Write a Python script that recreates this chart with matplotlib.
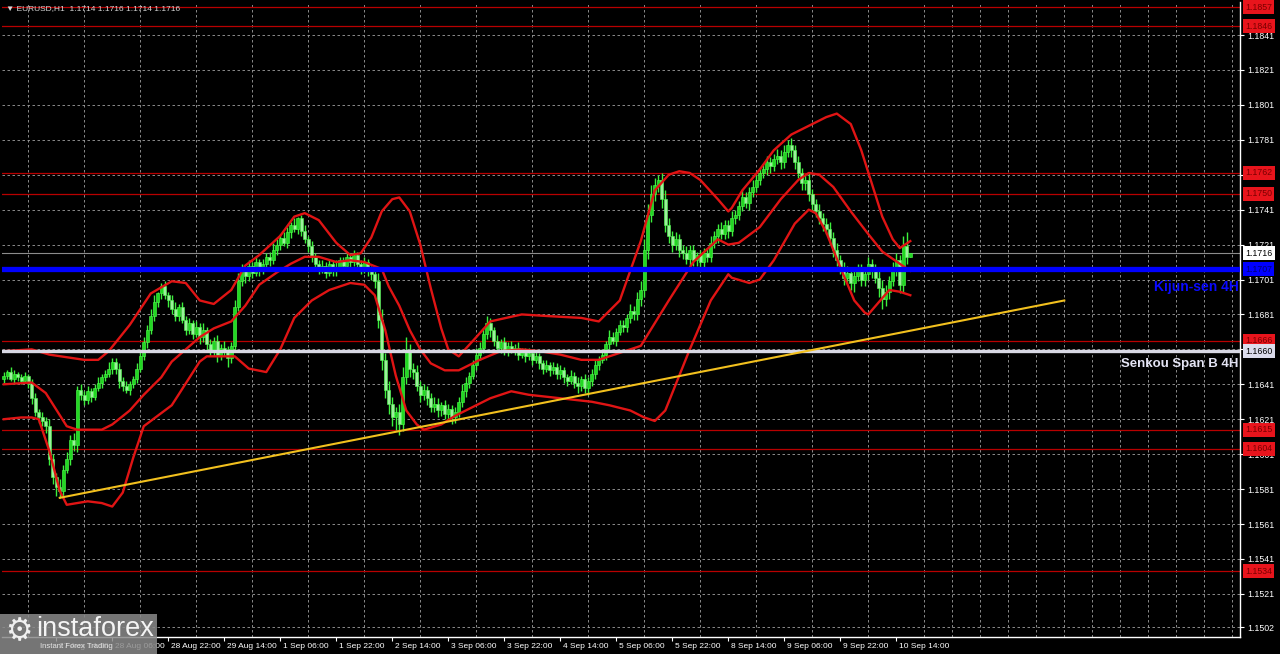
import matplotlib
matplotlib.use("Agg")
import matplotlib.pyplot as plt
from matplotlib.patches import Rectangle
from matplotlib.transforms import blended_transform_factory, ScaledTranslation
import numpy as np

plt.rcParams['font.family'] = ['Liberation Sans', 'DejaVu Sans']

# ---- EURUSD H1 data (pips above 1.1500) ----
BASE = 1.1500
first_open_pips = 144
closes_pips = [
    146, 148, 144, 147, 145, 143, 146, 142, 133, 125,
    122, 120, 117, 98, 88, 82, 80, 92, 98, 109,
    106, 138, 135, 132, 137, 134, 139, 142, 145, 147,
    150, 154, 150, 143, 140, 138, 141, 144, 150, 157,
    165, 172, 180, 188, 193, 197, 192, 189, 184, 180,
    185, 178, 172, 176, 170, 174, 168, 172, 164, 160,
    166, 158, 162, 160, 156, 163, 185, 200, 207, 203,
    209, 205, 211, 206, 210, 214, 212, 218, 221, 225,
    222, 228, 232, 230, 236, 229, 224, 220, 214, 210,
    207, 209, 205, 210, 206, 208, 212, 209, 214, 211,
    215, 210, 207, 211, 206, 204, 200, 178, 155, 138,
    130, 122, 125, 118, 145, 160, 150, 148, 140, 135,
    138, 133, 128, 130, 126, 129, 124, 127, 122, 125,
    131, 137, 142, 146, 152, 158, 162, 170, 176, 172,
    166, 162, 165, 160, 163, 161, 162, 158, 160, 157,
    159, 155, 157, 153, 150, 152, 149, 151, 147, 149,
    145, 143, 146, 142, 140, 144, 139, 143, 147, 152,
    155, 158, 164, 168, 166, 171, 175, 174, 179, 183,
    181, 190, 195, 218, 238, 250, 255, 258, 247, 232,
    226, 221, 224, 218, 216, 213, 218, 212, 215, 211,
    216, 214, 222, 226, 230, 227, 232, 229, 236, 238,
    243, 248, 245, 251, 254, 258, 262, 264, 268, 266,
    270, 272, 268, 274, 278, 275, 268, 262, 256, 258,
    250, 244, 240, 236, 233, 230, 225, 218, 212, 208,
    202, 205, 199, 203, 206, 201, 204, 210, 206, 202,
    196, 190, 194, 200, 207, 212, 198, 220, 214, 216,
]
wick_up = [
    2, 1, 3, 2, 1, 2, 2, 1, 2, 3,
    2, 3, 2, 4, 3, 2, 5, 3, 4, 3,
    4, 2, 3, 2, 3, 2, 2, 3, 2, 2,
    4, 2, 2, 3, 2, 3, 2, 2, 3, 4,
    3, 3, 4, 4, 1, 2, 3, 2, 3, 4,
    2, 3, 2, 3, 2, 3, 2, 4, 2, 3,
    2, 3, 2, 4, 3, 2, 4, 5, 3, 2,
    3, 2, 3, 2, 3, 2, 3, 4, 3, 2,
    3, 3, 2, 4, 1, 2, 3, 2, 3, 2,
    2, 3, 2, 3, 2, 4, 2, 2, 3, 2,
    3, 2, 2, 3, 2, 3, 2, 5, 6, 4,
    5, 4, 3, 5, 6, 8, 4, 3, 4, 3,
    3, 2, 3, 4, 3, 2, 3, 3, 2, 3,
    3, 4, 3, 2, 3, 4, 3, 3, 4, 3,
    2, 3, 2, 3, 2, 3, 2, 3, 2, 2,
    3, 2, 3, 2, 2, 3, 2, 3, 2, 3,
    2, 2, 3, 2, 3, 2, 3, 2, 3, 3,
    2, 3, 2, 4, 3, 2, 3, 3, 2, 4,
    3, 4, 5, 6, 6, 5, 4, 3, 4, 5,
    4, 3, 4, 3, 3, 4, 3, 3, 2, 3,
    3, 3, 4, 3, 3, 4, 3, 3, 4, 3,
    3, 4, 3, 3, 4, 3, 3, 3, 4, 3,
    3, 4, 3, 4, 3, 4, 3, 4, 3, 3,
    4, 3, 3, 4, 3, 3, 4, 3, 4, 3,
    3, 4, 3, 3, 4, 4, 3, 4, 3, 4,
    4, 5, 4, 3, 4, 4, 3, 6, 8, 0,
]
wick_dn = [
    2, 2, 1, 3, 2, 2, 1, 3, 3, 2,
    3, 3, 4, 3, 4, 5, 4, 3, 2, 3,
    3, 4, 3, 3, 2, 3, 2, 2, 3, 2,
    2, 3, 3, 4, 3, 2, 3, 2, 2, 2,
    2, 3, 2, 3, 3, 3, 2, 4, 3, 3,
    3, 2, 3, 2, 3, 2, 4, 3, 4, 3,
    3, 4, 3, 3, 5, 3, 3, 2, 3, 4,
    3, 3, 2, 3, 2, 3, 3, 2, 3, 3,
    2, 3, 3, 2, 3, 3, 2, 3, 3, 4,
    3, 2, 3, 2, 3, 3, 2, 3, 2, 3,
    2, 3, 3, 2, 3, 3, 4, 5, 6, 5,
    6, 5, 7, 6, 4, 4, 5, 4, 3, 4,
    3, 4, 3, 3, 4, 3, 3, 4, 4, 3,
    3, 3, 3, 3, 2, 3, 3, 3, 3, 4,
    3, 2, 3, 2, 3, 2, 3, 3, 2, 3,
    2, 3, 2, 3, 3, 2, 3, 2, 3, 3,
    3, 3, 2, 3, 4, 3, 3, 4, 3, 3,
    3, 2, 3, 3, 2, 3, 2, 3, 3, 3,
    3, 3, 4, 4, 5, 4, 4, 4, 5, 4,
    4, 4, 3, 4, 3, 3, 4, 3, 3, 3,
    3, 3, 3, 3, 4, 3, 3, 4, 3, 3,
    3, 3, 3, 4, 3, 3, 3, 3, 3, 4,
    3, 3, 4, 3, 3, 4, 4, 3, 4, 4,
    4, 4, 3, 3, 4, 3, 4, 4, 3, 4,
    4, 3, 4, 5, 3, 4, 4, 3, 4, 3,
    5, 6, 4, 4, 3, 4, 5, 4, 4, 0,
]

# ---- Bollinger-style envelope (bar index, pips) ----
upper_bars = [0, 8, 13, 23, 27, 30, 36, 42, 48, 52, 56, 60, 65, 69, 73, 79, 83, 86, 90, 95,
              99, 102, 105, 108, 111, 113, 116, 119, 122, 125, 127, 130, 135, 139, 148, 156, 165, 170, 176, 182,
              186, 190, 193, 196, 199, 204, 207, 208, 211, 216, 220, 225, 230, 235, 238, 242, 245, 248, 251, 254,
              256, 259]
upper_pips = [160, 161, 158, 155, 155, 160, 175, 193, 200, 199, 189, 187, 195, 209, 215, 226, 237, 239, 235, 222,
              215, 216, 225, 240, 247, 248, 240, 221, 196, 173, 161, 157, 168, 177, 181, 180, 179, 177, 189, 223,
              252, 261, 263, 262, 258, 247, 240, 242, 252, 264, 275, 284, 289, 294, 296, 290, 275, 256, 237, 224,
              219, 223]
mid_bars = [0, 8, 12, 18, 21, 28, 31, 36, 40, 45, 48, 52, 56, 60, 65, 69, 73, 78, 82, 86,
            90, 95, 99, 103, 108, 110, 113, 116, 119, 122, 126, 130, 136, 142, 148, 153, 159, 165, 170, 176,
            182, 190, 197, 204, 207, 210, 216, 222, 227, 230, 233, 237, 242, 247, 251, 256, 259]
mid_pips = [141, 142, 136, 117, 115, 115, 118, 126, 135, 145, 154, 161, 168, 173, 177, 186, 198, 205, 210, 214,
            214, 211, 212, 211, 207, 197, 186, 172, 161, 153, 149, 149, 155, 160, 161, 160, 158, 155, 155, 159,
            163, 189, 211, 224, 221, 222, 231, 247, 258, 262, 261, 254, 240, 227, 217, 210, 206]
low_bars = [0, 5, 8, 10, 13, 16, 18, 24, 28, 31, 34, 37, 40, 44, 48, 56, 58, 66, 70, 75,
            79, 83, 88, 93, 99, 103, 106, 109, 112, 115, 118, 120, 125, 129, 133, 139, 145, 150, 159, 168,
            173, 179, 183, 186, 189, 192, 196, 202, 207, 208, 213, 216, 220, 226, 230, 232, 235, 239, 243, 246,
            247, 250, 253, 256, 259]
low_pips = [121, 122, 122, 121, 103, 80, 72, 74, 73, 71, 79, 99, 117, 123, 129, 154, 157, 157, 150, 148,
            161, 179, 189, 195, 199, 198, 192, 172, 146, 126, 118, 115, 118, 123, 127, 133, 137, 135, 133, 131,
            129, 126, 122, 120, 126, 141, 161, 189, 204, 202, 199, 201, 212, 233, 241, 239, 228, 208, 189, 182,
            181, 188, 195, 194, 192]

# ---- levels ----
red_levels = [1.1857, 1.1846, 1.1762, 1.1750, 1.1666, 1.1615, 1.1604, 1.1534]
kijun = 1.1707
senkou_b = 1.1660
bid = 1.1716
trend_bars = [16, 303]
trend_prices = [1.1576, 1.1689]
title_ohlc = [1.1714, 1.1716, 1.1714, 1.1716]

price_ticks = [1.1841, 1.1821, 1.1801, 1.1781, 1.1761, 1.1741, 1.1721, 1.1701, 1.1681,
               1.1661, 1.1641, 1.1621, 1.1601, 1.1581, 1.1561, 1.1541, 1.1521, 1.1502]
# tick labels hidden behind the level boxes on the price scale
hidden_ticks = [1.1761, 1.1661]
time_labels = ["27 Aug 14:00", "28 Aug 06:00", "28 Aug 22:00", "29 Aug 14:00", "1 Sep 06:00",
               "1 Sep 22:00", "2 Sep 14:00", "3 Sep 06:00", "3 Sep 22:00", "4 Sep 14:00",
               "5 Sep 06:00", "5 Sep 22:00", "8 Sep 14:00", "9 Sep 06:00", "9 Sep 22:00",
               "10 Sep 14:00"]
first_label_bar = 15
bars_per_label = 16
bars_per_grid = 8


def px(p):
    return BASE + np.asarray(p, dtype=float) / 10000.0


fig = plt.figure(figsize=(12.8, 6.54), dpi=100, facecolor='black')
ax = fig.add_axes([2 / 1280, 17 / 654, 1238 / 1280, 635 / 654])
ax.set_facecolor('black')
ax.set_axisbelow(True)

# ---- candles ----
n = len(closes_pips)
bars = np.arange(n)
c = np.array(closes_pips, dtype=float)
o = np.concatenate([[first_open_pips], c[:-1]])
hi = np.maximum(o, c) + np.array(wick_up)
lo = np.minimum(o, c) - np.array(wick_dn)
ax.vlines(bars, px(lo), px(hi), color='#3cf03c', lw=1.0, zorder=3)
up = c >= o
body_h = np.maximum(np.abs(c - o), 0.5) / 10000.0
body_b = px(np.minimum(o, c))
ax.bar(bars[up], body_h[up], bottom=body_b[up], width=0.78, color='#22d822',
       edgecolor='#50ff50', lw=0.4, zorder=4)
ax.bar(bars[~up], body_h[~up], bottom=body_b[~up], width=0.78, color='#9cf09c',
       edgecolor='#50ff50', lw=0.4, zorder=4)

# ---- horizontal levels ----
for lvl in red_levels:
    ax.axhline(lvl, color='#b80000', lw=0.9, zorder=2)
ax.axhline(bid, color='#8c8c8c', lw=0.8, zorder=2)

# ---- envelope ----
for bx, bp in [(upper_bars, upper_pips), (mid_bars, mid_pips), (low_bars, low_pips)]:
    ax.plot(bx, px(bp), color='#e01414', lw=1.7, zorder=5, solid_joinstyle='round')

ax.axhline(kijun, color='#0000ff', lw=3.8, zorder=6)
ax.axhline(senkou_b, color='#d8d8e4', lw=2.4, zorder=6)
ax.plot(trend_bars, trend_prices, color='#f2c01e', lw=1.5, zorder=6)

# ---- axes / grid ----
ax.set_xlim(-0.5, 353.2)
ax.set_ylim(1.14963, 1.18599)
ax.yaxis.tick_right()
ax.set_yticks(price_ticks)
ax.set_yticklabels(["" if t in hidden_ticks else f"{t:.4f}" for t in price_ticks])
ax.tick_params(axis='y', colors='white', labelsize=6.3, length=3, pad=2, width=0.8)

label_bars = [first_label_bar + bars_per_label * k for k in range(len(time_labels))]
ax.set_xticks(label_bars)
ax.set_xticklabels(time_labels, ha='left')
ax.tick_params(axis='x', colors='white', labelsize=6, length=3, pad=1, width=0.8)
shift = ScaledTranslation(3 / 100, 0, fig.dpi_scale_trans)
for lab in ax.get_xticklabels():
    lab.set_transform(lab.get_transform() + shift)

grid_bars = list(range(first_label_bar % bars_per_grid, 354, bars_per_grid))
ax.set_xticks(grid_bars, minor=True)
ax.tick_params(axis='x', which='minor', length=0)
gstyle = dict(color='#a0a0a0', lw=0.6, linestyle=(0, (3, 3)))
ax.xaxis.grid(True, which='minor', **gstyle)
ax.yaxis.grid(True, which='major', **gstyle)

for side in ['top', 'left']:
    ax.spines[side].set_visible(False)
for side in ['right', 'bottom']:
    ax.spines[side].set_color('white')
    ax.spines[side].set_linewidth(1.0)

# ---- right-axis price boxes ----
trans = blended_transform_factory(ax.transAxes, ax.transData)
box_x = 1.0 + 5 / 1238


def price_box(val, fc, tc):
    ax.text(box_x, val, f"{val:.4f}", transform=trans, ha='left', va='center',
            fontsize=6.3, color=tc, clip_on=False, zorder=8,
            bbox=dict(boxstyle='square,pad=0.28', fc=fc, ec='none'))


for lvl in red_levels:
    price_box(lvl, '#e8141c', '#7a0000')
price_box(kijun, '#0000ff', '#000070')
price_box(senkou_b, '#dcdcec', '#000000')
price_box(bid, '#ffffff', '#000000')

# ---- line captions ----
ax.annotate("Kijun-sen 4H", xy=(0.999, kijun), xycoords=trans, xytext=(0, -18),
            textcoords='offset pixels', ha='right', va='center', fontsize=10,
            fontweight='bold', color='#0a0aff', zorder=8)
ax.annotate("Senkou Span B 4H", xy=(0.999, senkou_b), xycoords=trans, xytext=(0, -13),
            textcoords='offset pixels', ha='right', va='center', fontsize=9.5,
            fontweight='bold', color='#e4e4f4', zorder=8)

# ---- title ----
title = "\u25bc EURUSD,H1  " + " ".join(f"{v:.4f}" for v in title_ohlc)
fig.text(6 / 1280, 1 - 9 / 654, title, color='#d8d8d8', fontsize=6, va='center')

# ---- logo ----
fig.add_artist(Rectangle((0, 0), 157 / 1280, 40 / 654, transform=fig.transFigure,
                         facecolor='#8a8a8a', alpha=0.85, edgecolor='none', zorder=10))
fig.text(5 / 1280, 1 - 632 / 654, "\u2699", fontsize=22, color='#f0f0f0', va='center', zorder=11)
fig.text(36 / 1280, 1 - 629 / 654, "instaforex", fontsize=19.5, color='#f4f4f4', va='center', zorder=11)
fig.text(40 / 1280, 1 - 646 / 654, "Instant Forex Trading", fontsize=5.5, color='#e6e6e6',
         va='center', zorder=11)

fig.savefig("out.png", dpi=100, facecolor='black')
